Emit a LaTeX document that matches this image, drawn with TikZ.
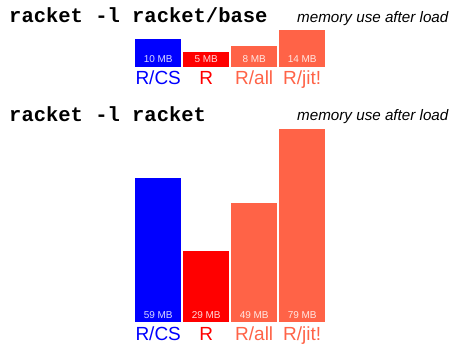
\documentclass[tikz,border=0pt]{standalone}
\usepackage{fontspec}
\setmainfont{Liberation Sans}
\newfontfamily\codefont{Liberation Mono}
\usepackage{xcolor}
\usepackage{tikz}
\definecolor{csblue}{HTML}{0000FF}
\definecolor{bcred}{HTML}{FF0000}
\definecolor{jittomato}{HTML}{FF6347}
\tikzset{
  cmdtitle/.style={anchor=base west,inner sep=0pt,
    font=\codefont\bfseries\fontsize{20.5}{24}\selectfont},
  memnote/.style={anchor=base west,inner sep=0pt,
    font=\itshape\fontsize{15.2}{18}\selectfont},
  membar/.style={anchor=south west,inner sep=0pt,minimum width=46pt},
  mbval/.style={text=white,text opacity=.85,inner sep=0pt,
    font=\fontsize{10}{12}\selectfont},
  vmlabel/.style={anchor=base,inner sep=0pt,
    font=\fontsize{19}{22}\selectfont}
}

\begin{document}
\begin{tikzpicture}[x=1pt,y=-1pt]
  \useasboundingbox (0,0) rectangle (450,343);

  % racket/base
  \node[cmdtitle] (basetitle) at (9,22.5) {racket -l racket/base};
  \node[memnote] (basenote) at (297,22.3) {memory use after load};
  \foreach \n/\col/\x/\h/\mb/\lab in {cs/csblue/135/27.7/10/{R/CS},
      bc/bcred/183/15/5/R, all/jittomato/231/21/8/{R/all},
      jit/jittomato/279/37/14/{R/jit!}}{
    \node[membar,fill=\col,minimum height=\h pt] (base-\n) at (\x,67) {};
    \node[mbval] (baseval-\n) at ([yshift=8pt]base-\n.south) {\mb{} MB};
    \node[vmlabel,text=\col] (baselab-\n) at ([yshift=-17.5pt]base-\n.south) {\lab};
  }

  % full racket
  \node[cmdtitle] (fulltitle) at (9,121.5) {racket -l racket};
  \node[memnote] (fullnote) at (297,120.7) {memory use after load};
  \foreach \n/\col/\x/\h/\mb/\lab in {cs/csblue/135/143.4/59/{R/CS},
      bc/bcred/183/70.7/29/R, all/jittomato/231/118.4/49/{R/all},
      jit/jittomato/279/192.4/79/{R/jit!}}{
    \node[membar,fill=\col,minimum height=\h pt] (full-\n) at (\x,321.7) {};
    \node[mbval] (fullval-\n) at ([yshift=7pt]full-\n.south) {\mb{} MB};
    \node[vmlabel,text=\col] (fulllab-\n) at ([yshift=-18.3pt]full-\n.south) {\lab};
  }
\end{tikzpicture}
\end{document}
